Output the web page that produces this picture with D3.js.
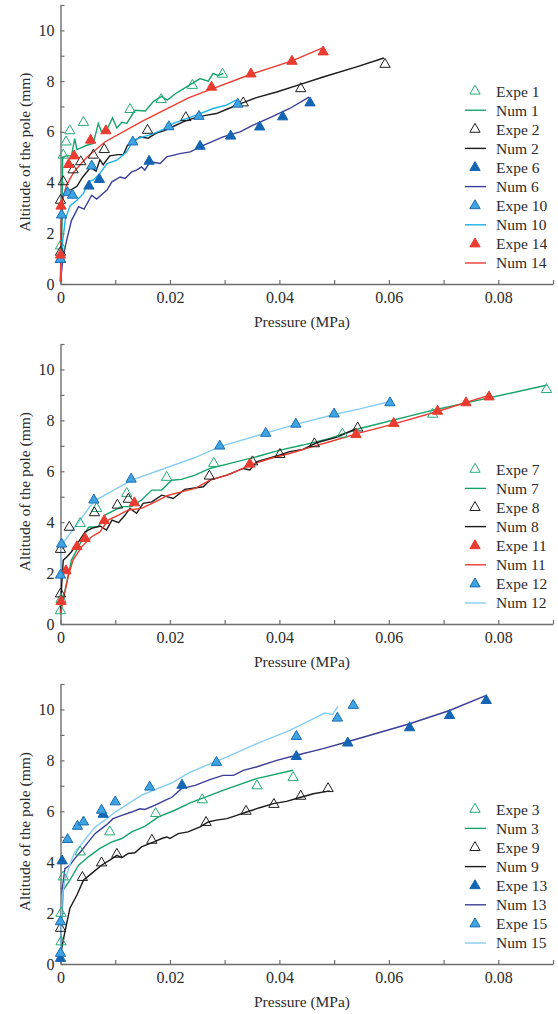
<!DOCTYPE html>
<html>
<head>
<meta charset="utf-8">
<script src="https://cdn.jsdelivr.net/npm/d3@7"></script>
<style>
  body { margin: 0; background: #fff; }
  text { font-family: 'Liberation Serif', 'Times New Roman', serif; fill: #2b2b2b; }
</style>
</head>
<body>
<div id="chart"></div>
<script>
// [pressure (MPa), altitude (mm)]
const expe1 = [[0, 1.5], [0.0005, 5.08], [0.001, 5.6], [0.0017, 6.04], [0.0042, 6.37], [0.0127, 6.88], [0.0184, 7.27], [0.0241, 7.83], [0.0296, 8.27]]
const num1 = [[0, 0.1], [0.0002, 1.5], [0.0004, 5.0], [0.001, 5.05], [0.002, 5.05], [0.0026, 5.73], [0.003, 5.3], [0.0048, 5.47], [0.006, 5.54], [0.0069, 6.33], [0.0075, 6.0], [0.0087, 6.19], [0.0095, 6.55], [0.0103, 6.15], [0.0112, 6.38], [0.0121, 6.33], [0.0136, 6.85], [0.0155, 6.82], [0.017, 7.2], [0.0185, 7.4], [0.0195, 7.25], [0.021, 7.5], [0.0225, 7.7], [0.024, 7.9], [0.0255, 8.1], [0.027, 8.0], [0.0279, 8.3], [0.0288, 8.22], [0.0297, 8.3]]
const expe2 = [[0, 1.25], [0, 3.3], [0.0005, 4.03], [0.0023, 4.5], [0.0037, 4.82], [0.006, 5.08], [0.008, 5.3], [0.0159, 6.06], [0.0229, 6.56], [0.0334, 7.14], [0.0439, 7.7], [0.0593, 8.66]]
const num2 = [[0, 0.1], [0.0002, 2.5], [0.0004, 3.4], [0.001, 3.7], [0.002, 3.72], [0.003, 3.85], [0.004, 4.2], [0.0055, 4.6], [0.0065, 4.45], [0.0072, 4.9], [0.0078, 4.7], [0.009, 5.05], [0.0105, 5.1], [0.0115, 5.1], [0.0122, 5.45], [0.013, 5.55], [0.0145, 5.8], [0.016, 5.75], [0.0175, 5.95], [0.019, 6.05], [0.0205, 6.2], [0.0225, 6.4], [0.0245, 6.55], [0.0265, 6.65], [0.0285, 6.72], [0.0305, 6.9], [0.0328, 7.1], [0.0358, 7.35], [0.0395, 7.57], [0.0437, 7.86], [0.048, 8.16], [0.0541, 8.56], [0.0591, 8.91]]
const expe6 = [[0, 0.97], [0.0052, 3.86], [0.0071, 4.12], [0.0162, 4.84], [0.0255, 5.43], [0.0311, 5.83], [0.0364, 6.19], [0.0406, 6.59], [0.0456, 7.14]]
const num6 = [[0, 0.1], [0.0005, 1.1], [0.0011, 1.7], [0.002, 2.5], [0.0033, 3.05], [0.0043, 2.95], [0.0057, 3.5], [0.0066, 3.35], [0.0085, 3.7], [0.0094, 4.03], [0.0109, 4.22], [0.0118, 4.16], [0.013, 4.42], [0.0139, 4.49], [0.0148, 4.62], [0.0154, 4.49], [0.0164, 4.82], [0.0182, 4.75], [0.0194, 5.01], [0.0218, 5.14], [0.0237, 5.21], [0.0261, 5.47], [0.0297, 5.8], [0.0328, 6.0], [0.0352, 6.26], [0.0383, 6.56], [0.0419, 6.92], [0.0454, 7.37]]
const expe10 = [[0, 0.97], [0.0002, 2.72], [0.0013, 3.6], [0.0022, 3.5], [0.0057, 4.65], [0.0132, 5.6], [0.0198, 6.2], [0.0253, 6.61], [0.0324, 7.09]]
const num10 = [[0, 0.1], [0.0004, 1.7], [0.0009, 2.58], [0.0018, 3.1], [0.003, 3.3], [0.0042, 3.57], [0.0051, 4.03], [0.006, 4.1], [0.0072, 4.36], [0.0085, 4.75], [0.0103, 4.88], [0.0121, 5.21], [0.0133, 5.67], [0.0151, 5.8], [0.017, 5.93], [0.0191, 6.13], [0.0206, 6.33], [0.023, 6.52], [0.0255, 6.72], [0.0279, 6.92], [0.0303, 7.05], [0.0322, 7.26]]
const expe14 = [[0, 1.14], [0.0001, 3.07], [0.0015, 4.71], [0.0025, 5.05], [0.0055, 5.67], [0.0083, 6.04], [0.0276, 7.76], [0.0348, 8.28], [0.0423, 8.78], [0.048, 9.15]]
const num14 = [[0, 0.1], [0.0001, 2.0], [0.0002, 3.19], [0.0011, 3.9], [0.0024, 4.4], [0.0048, 5.0], [0.0081, 5.6], [0.0148, 6.4], [0.0194, 6.9], [0.0235, 7.35], [0.0276, 7.68], [0.0348, 8.27], [0.0423, 8.8], [0.048, 9.32]]

const expe7 = [[0, 0.52], [0.0001, 0.97], [0.0036, 3.95], [0.0066, 4.54], [0.0121, 5.13], [0.0194, 5.76], [0.028, 6.31], [0.0515, 7.46], [0.068, 8.24], [0.0888, 9.21]]
const num7 = [[0, 0.45], [0.0005, 1.0], [0.002, 2.51], [0.0033, 3.04], [0.0051, 3.8], [0.0069, 3.82], [0.0081, 4.28], [0.01, 4.48], [0.0112, 4.61], [0.013, 4.61], [0.0148, 4.87], [0.0167, 5.26], [0.0185, 5.26], [0.0203, 5.65], [0.0221, 5.68], [0.0246, 5.85], [0.0273, 6.11], [0.031, 6.31], [0.0358, 6.57], [0.0401, 6.83], [0.0443, 7.03], [0.0492, 7.29], [0.0547, 7.68], [0.0681, 8.4], [0.0888, 9.38]]
const expe8 = [[0, 1.18], [0, 2.93], [0.0016, 3.8], [0.0062, 4.37], [0.0104, 4.67], [0.0124, 4.9], [0.0272, 5.81], [0.0351, 6.37], [0.0401, 6.66], [0.0464, 7.08], [0.0543, 7.7]]
const num8 = [[0, 0.45], [0.0002, 1.47], [0.0005, 2.51], [0.0011, 2.62], [0.002, 2.84], [0.0033, 3.23], [0.0045, 3.62], [0.0057, 3.76], [0.0072, 3.85], [0.0084, 3.69], [0.0094, 4.08], [0.0106, 3.98], [0.0118, 4.28], [0.0127, 4.54], [0.0139, 4.35], [0.0151, 4.74], [0.0167, 4.8], [0.0185, 5.06], [0.0206, 4.93], [0.0227, 5.29], [0.0261, 5.39], [0.0273, 5.65], [0.0304, 5.85], [0.0334, 6.11], [0.0346, 6.05], [0.0358, 6.37], [0.0401, 6.64], [0.0419, 6.77], [0.0443, 6.86], [0.0468, 7.12], [0.0504, 7.33], [0.0541, 7.68]]
const expe11 = [[0.0001, 0.88], [0.001, 2.09], [0.003, 3.04], [0.0045, 3.36], [0.008, 4.06], [0.0135, 4.76], [0.0346, 6.28], [0.054, 7.44], [0.0609, 7.88], [0.0689, 8.36], [0.0741, 8.69], [0.0783, 8.92]]
const num11 = [[0, 0.45], [0.0005, 0.94], [0.0014, 1.86], [0.0023, 2.51], [0.0039, 3.04], [0.0057, 3.43], [0.0072, 3.62], [0.0087, 4.08], [0.0106, 4.28], [0.0124, 4.48], [0.0148, 4.54], [0.0173, 4.8], [0.0197, 5.06], [0.0221, 5.19], [0.0246, 5.33], [0.0273, 5.65], [0.031, 5.89], [0.0346, 6.24], [0.0383, 6.5], [0.0419, 6.7], [0.0456, 6.94], [0.0492, 7.16], [0.0547, 7.51], [0.0608, 7.85], [0.0687, 8.34], [0.0784, 8.99]]
const expe12 = [[0, 1.92], [0.0002, 3.14], [0.0061, 4.87], [0.0129, 5.69], [0.0291, 6.99], [0.0375, 7.49], [0.043, 7.85], [0.05, 8.25], [0.0602, 8.69]]
const num12 = [[0, 1.9], [0.0002, 3.1], [0.0061, 4.82], [0.0129, 5.64], [0.0246, 6.54], [0.0291, 6.97], [0.0375, 7.5], [0.043, 7.84], [0.05, 8.23], [0.0547, 8.45], [0.0602, 8.74]]

const expe3 = [[0.0001, 0.87], [0.0001, 1.99], [0.0005, 3.42], [0.0036, 4.4], [0.009, 5.19], [0.0174, 5.91], [0.0259, 6.45], [0.0359, 7.0], [0.0425, 7.32]]
const num3 = [[0, 0.35], [0.0002, 1.6], [0.0005, 2.9], [0.0017, 3.29], [0.0033, 3.88], [0.0051, 4.21], [0.0072, 4.54], [0.0094, 4.8], [0.0112, 4.93], [0.013, 5.19], [0.0154, 5.41], [0.0179, 5.78], [0.0209, 6.04], [0.0237, 6.33], [0.0297, 6.82], [0.0358, 7.28], [0.0425, 7.61]]
const expe9 = [[0, 1.4], [0.004, 3.4], [0.0075, 3.97], [0.0103, 4.31], [0.0167, 4.86], [0.0266, 5.56], [0.0339, 6.0], [0.039, 6.27], [0.0439, 6.59], [0.0489, 6.89]]
const num9 = [[0, 0.35], [0.0005, 0.94], [0.0017, 2.18], [0.003, 2.71], [0.0042, 3.29], [0.0057, 3.56], [0.0075, 3.88], [0.009, 4.08], [0.0103, 4.27], [0.0112, 4.18], [0.0124, 4.34], [0.0136, 4.37], [0.0148, 4.6], [0.0173, 4.82], [0.0185, 4.93], [0.0194, 4.99], [0.02, 4.93], [0.0215, 5.12], [0.0233, 5.19], [0.0255, 5.39], [0.027, 5.58], [0.0285, 5.65], [0.0304, 5.71], [0.0322, 5.84], [0.034, 5.97], [0.0364, 6.14], [0.0389, 6.3], [0.0413, 6.39], [0.0431, 6.5], [0.0462, 6.69], [0.0492, 6.8]]
const expe13 = [[0, 0.22], [0.0003, 4.05], [0.0078, 5.88], [0.0222, 7.02], [0.0431, 8.15], [0.0525, 8.68], [0.0638, 9.28], [0.0711, 9.76], [0.0778, 10.35]]
const num13 = [[0, 0.3], [0.0003, 2.9], [0.0008, 3.75], [0.0017, 3.88], [0.0026, 4.14], [0.0039, 4.47], [0.0051, 4.8], [0.0063, 5.12], [0.0075, 5.32], [0.0087, 5.52], [0.0096, 5.71], [0.0112, 5.84], [0.013, 5.97], [0.0145, 6.1], [0.0154, 6.07], [0.0173, 6.24], [0.0191, 6.43], [0.0203, 6.54], [0.0221, 6.89], [0.0246, 7.02], [0.0273, 7.24], [0.0297, 7.41], [0.0316, 7.41], [0.0334, 7.61], [0.0358, 7.74], [0.0395, 8.0], [0.0431, 8.2], [0.048, 8.46], [0.0523, 8.72], [0.0638, 9.44], [0.0711, 9.96], [0.0778, 10.55]]
const expe15 = [[0, 0.42], [0, 1.66], [0.0013, 4.89], [0.0031, 5.41], [0.0042, 5.58], [0.0075, 6.04], [0.01, 6.37], [0.0163, 6.95], [0.0285, 7.92], [0.0431, 8.94], [0.0506, 9.66], [0.0535, 10.16]]
const num15 = [[0, 0.3], [0.0003, 2.64], [0.0008, 3.29], [0.002, 4.08], [0.0026, 4.4], [0.0039, 4.73], [0.0051, 5.06], [0.0063, 5.38], [0.0081, 5.65], [0.01, 5.97], [0.0124, 6.3], [0.0148, 6.63], [0.0173, 6.85], [0.0203, 7.11], [0.0237, 7.54], [0.0297, 8.07], [0.0358, 8.65], [0.0419, 9.18], [0.0456, 9.57], [0.0483, 9.86], [0.0497, 9.8], [0.0507, 10.12]]

const xTickValues = d3.range(0, 10).map((i) => i / 100)
const yTickValues = d3.range(0, 12)
const xTitle = 'Pressure (MPa)'
const yTitle = 'Altitude of the pole (mm)'

const markerStyles = {
  openGreen: { fill: 'none', stroke: '#25ab78' },
  openBlack: { fill: 'none', stroke: '#1e1e1e' },
  darkBlue: { fill: '#1466b4', stroke: '#1466b4' },
  lightBlue: { fill: '#3ea5e2', stroke: '#1c6cb3' },
  red: { fill: '#ea3b30', stroke: '#ea3b30' },
}

const lineColors = {
  green: '#15a36c',
  black: '#1a1a1a',
  navy: '#3b3e98',
  cyan: '#1cb0ea',
  sky: '#86cdf2',
  red: '#ec3b30',
}

const panels = [
  {
    top: 5,
    bottom: 284,
    series: [
      { label: 'Expe 1', data: expe1, marker: 'openGreen' },
      { label: 'Num 1', data: num1, line: 'green' },
      { label: 'Expe 2', data: expe2, marker: 'openBlack' },
      { label: 'Num 2', data: num2, line: 'black' },
      { label: 'Expe 6', data: expe6, marker: 'darkBlue' },
      { label: 'Num 6', data: num6, line: 'navy' },
      { label: 'Expe 10', data: expe10, marker: 'lightBlue' },
      { label: 'Num 10', data: num10, line: 'cyan' },
      { label: 'Expe 14', data: expe14, marker: 'red' },
      { label: 'Num 14', data: num14, line: 'red' },
    ],
  },
  {
    top: 344,
    bottom: 624,
    series: [
      { label: 'Expe 7', data: expe7, marker: 'openGreen' },
      { label: 'Num 7', data: num7, line: 'green' },
      { label: 'Expe 8', data: expe8, marker: 'openBlack' },
      { label: 'Num 8', data: num8, line: 'black' },
      { label: 'Expe 11', data: expe11, marker: 'red' },
      { label: 'Num 11', data: num11, line: 'red' },
      { label: 'Expe 12', data: expe12, marker: 'lightBlue' },
      { label: 'Num 12', data: num12, line: 'sky' },
    ],
  },
  {
    top: 684,
    bottom: 964,
    series: [
      { label: 'Expe 3', data: expe3, marker: 'openGreen' },
      { label: 'Num 3', data: num3, line: 'green' },
      { label: 'Expe 9', data: expe9, marker: 'openBlack' },
      { label: 'Num 9', data: num9, line: 'black' },
      { label: 'Expe 13', data: expe13, marker: 'darkBlue' },
      { label: 'Num 13', data: num13, line: 'navy' },
      { label: 'Expe 15', data: expe15, marker: 'lightBlue' },
      { label: 'Num 15', data: num15, line: 'sky' },
    ],
  },
]

const width = 558
const height = 1014
const axisColor = '#6e6e6e'

const x = d3.scaleLinear().domain([0, 0.09]).range([60.5, 553])
const triangle = d3.symbol().type(d3.symbolTriangle).size(46)

const svg = d3.select('#chart')
  .append('svg')
  .attr('width', width)
  .attr('height', height)

const drawMarker = (sel, style) => {
  sel.attr('d', triangle)
    .attr('fill', markerStyles[style].fill)
    .attr('stroke', markerStyles[style].stroke)
    .attr('stroke-width', 1)
}

const drawPanel = (panel) => {
  const y = d3.scaleLinear().domain([0, 11]).range([panel.bottom, panel.top])
  const g = svg.append('g')

  const xAxis = d3.axisBottom(x)
    .tickValues(xTickValues)
    .tickSizeInner(-4)
    .tickSizeOuter(0)
    .tickPadding(8)
    .tickFormat((d, i) => (i % 2 ? '' : d === 0 ? '0' : d3.format('.2f')(d)))

  const yAxis = d3.axisLeft(y)
    .tickValues(yTickValues)
    .tickSizeInner(-4)
    .tickSizeOuter(0)
    .tickPadding(6)
    .tickFormat((d) => (d % 2 ? '' : d))

  const gx = g.append('g')
    .attr('transform', `translate(0,${panel.bottom})`)
    .call(xAxis)
  const gy = g.append('g')
    .attr('transform', `translate(${x(0)},0)`)
    .call(yAxis)

  ;[gx, gy].forEach((ax) => {
    ax.select('.domain').attr('stroke', axisColor).attr('stroke-width', 1.4)
    ax.selectAll('.tick line').attr('stroke', axisColor).attr('stroke-width', 1.2)
    ax.selectAll('.tick text')
      .attr('fill', '#2b2b2b')
      .style('font-family', "'Liberation Serif', serif")
      .style('font-size', '16px')
  })

  g.append('text')
    .attr('x', 302)
    .attr('y', panel.bottom + 43)
    .attr('text-anchor', 'middle')
    .style('font-size', '15.5px')
    .text(xTitle)

  g.append('text')
    .attr('transform', `translate(30,${y(5.2)}) rotate(-90)`)
    .attr('text-anchor', 'middle')
    .style('font-size', '15.5px')
    .text(yTitle)

  const line = d3.line()
    .x((d) => x(d[0]))
    .y((d) => y(d[1]))

  // lines first, markers on top
  panel.series.filter((s) => s.line).forEach((s) => {
    g.append('path')
      .datum(s.data)
      .attr('d', line)
      .attr('fill', 'none')
      .attr('stroke', lineColors[s.line])
      .attr('stroke-width', 1.4)
  })

  panel.series.filter((s) => s.marker).forEach((s) => {
    g.selectAll(null)
      .data(s.data)
      .enter()
      .append('path')
      .attr('transform', (d) => `translate(${x(d[0])},${y(d[1])})`)
      .call(drawMarker, s.marker)
  })

  const n = panel.series.length
  const legend = g.append('g')
    .selectAll('g')
    .data(panel.series)
    .enter()
    .append('g')
    .attr('transform', (d, i) => `translate(475,${panel.bottom - 21 - (n - 1 - i) * 19.1})`)

  legend.each(function (s) {
    const item = d3.select(this)
    if (s.line) {
      item.append('line')
        .attr('x1', -10)
        .attr('x2', 11)
        .attr('stroke', lineColors[s.line])
        .attr('stroke-width', 1.4)
    } else {
      item.append('path').call(drawMarker, s.marker)
    }
    item.append('text')
      .attr('x', 21)
      .attr('dy', '0.35em')
      .style('font-size', '15.5px')
      .text(s.label)
  })
}

panels.forEach(drawPanel)
</script>
</body>
</html>
